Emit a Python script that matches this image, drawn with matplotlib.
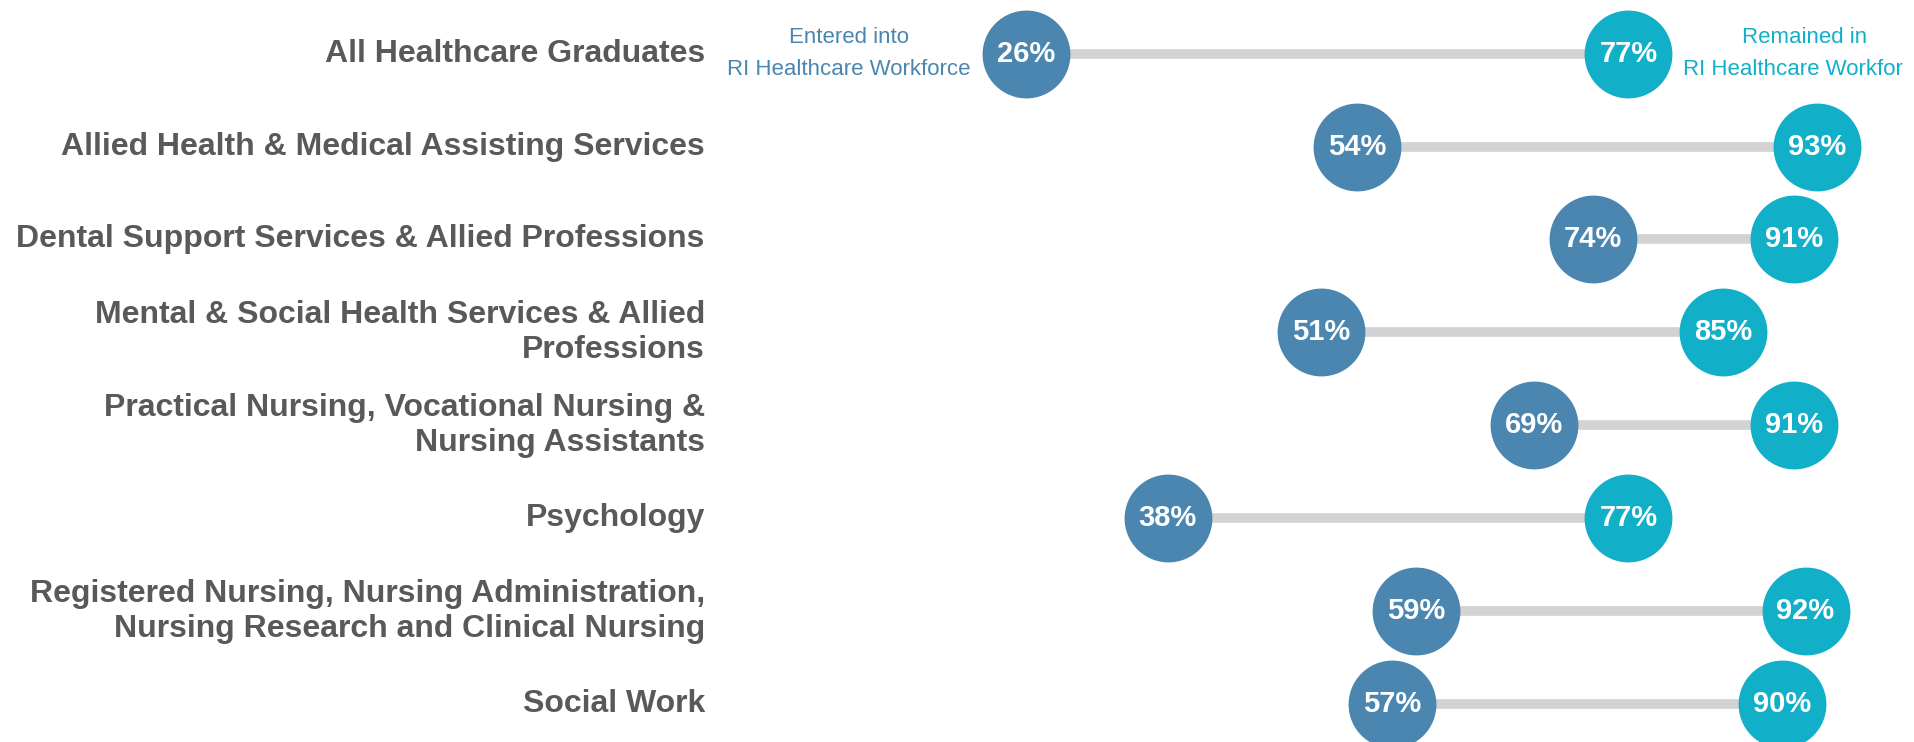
import matplotlib.pyplot as plt

# Data
categories = [
    "All Healthcare Graduates",
    "Allied Health & Medical Assisting Services",
    "Dental Support Services & Allied Professions",
    "Mental & Social Health Services & Allied\nProfessions",
    "Practical Nursing, Vocational Nursing &\nNursing Assistants",
    "Psychology",
    "Registered Nursing, Nursing Administration,\nNursing Research and Clinical Nursing",
    "Social Work",
]
entered = [26, 54, 74, 51, 69, 38, 59, 57]
remained = [77, 93, 91, 85, 91, 77, 92, 90]

DARK = "#4A86AF"
TEAL = "#12AFC8"
LINE = "#D3D3D3"
GRAY = "#595959"

plt.rcParams['font.family'] = ['Liberation Sans', 'DejaVu Sans']

fig = plt.figure(figsize=(19.15, 7.42), dpi=100)
# axes ends a bit before the right edge so the right annotation is clipped like the original
ax = fig.add_axes([719 / 1915, 0, (1903 - 719) / 1915, 1])
ax.set_xlim(0, (1903 - 719) / 11.81)
ax.set_ylim(7.409, -0.578)
ax.axis('off')

ys = list(range(len(categories)))

for y, a, b in zip(ys, entered, remained):
    ax.plot([a, b], [y, y], color=LINE, lw=7, solid_capstyle='butt', zorder=1, clip_on=False)

ax.scatter(entered, ys, s=4000, color=DARK, zorder=2, clip_on=False, linewidths=0)
ax.scatter(remained, ys, s=4000, color=TEAL, zorder=2, clip_on=False, linewidths=0)

for y, a, b in zip(ys, entered, remained):
    ax.text(a, y, f"{a}%", ha='center', va='center', color='white',
            fontsize=21, fontweight='bold', zorder=3, clip_on=False)
    ax.text(b, y, f"{b}%", ha='center', va='center', color='white',
            fontsize=21, fontweight='bold', zorder=3, clip_on=False)

# category labels
for y, lab in zip(ys, categories):
    ax.text(-1.2, y, lab, ha='right', va='center', color=GRAY, fontsize=23,
            fontweight='bold', linespacing=1.22, clip_on=False)

# series annotations
ax.text(11.0, 0, "Entered into\nRI Healthcare Workforce", ha='center', va='center',
        color=DARK, fontsize=16, linespacing=1.65)
ax.text(91.96, 0, "Remained in\nRI Healthcare Workforce", ha='center', va='center',
        color=TEAL, fontsize=16, linespacing=1.65, clip_on=True)

fig.savefig("out.png", dpi=100)
